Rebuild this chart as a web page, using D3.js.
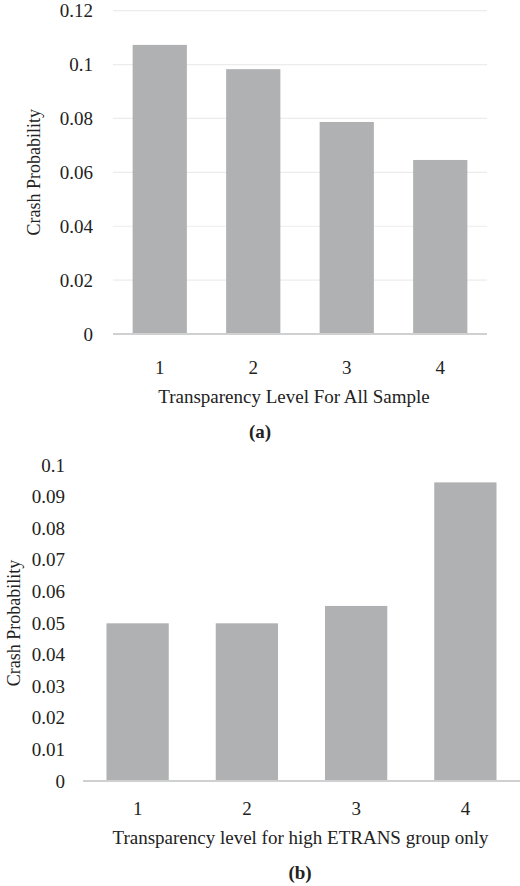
<!DOCTYPE html>
<html><head><meta charset="utf-8">
<script src="https://cdn.jsdelivr.net/npm/d3@7"></script>
<style>body{margin:0;background:#fff}text{font-family:"Liberation Serif",serif;fill:#222}</style>
</head><body><svg id="c" width="520" height="886"></svg>
<script>
const levels = ["1","2","3","4"];
const allSample = [0.1073, 0.0983, 0.0787, 0.0646];
const highEtrans = [0.0499, 0.0499, 0.0554, 0.0945];
const ticksA = [0,0.02,0.04,0.06,0.08,0.1,0.12];
const ticksB = [0,0.01,0.02,0.03,0.04,0.05,0.06,0.07,0.08,0.09,0.1];

const svg = d3.select("#c");
function panel(o){
  const g = svg.append("g");
  const x = d3.scaleBand().domain(levels).range([o.x0,o.x1]).paddingInner(o.pad).paddingOuter(o.pad/2);
  const y = d3.scaleLinear().domain([0,o.max]).range([o.y0,o.y1]);
  if(o.grid) g.selectAll(".gl").data(o.ticks.slice(1)).join("line")
    .attr("x1",o.x0).attr("x2",o.x1).attr("y1",d=>y(d)).attr("y2",d=>y(d))
    .attr("stroke","#ececec").attr("stroke-width",1.2);
  g.selectAll(".b").data(o.vals).join("rect")
    .attr("x",(d,i)=>x(levels[i])).attr("width",x.bandwidth())
    .attr("y",d=>y(d)).attr("height",d=>y(0)-y(d)).attr("fill","#b0b1b3");
  g.append("line").attr("x1",o.x0).attr("x2",o.x1).attr("y1",y(0)).attr("y2",y(0))
    .attr("stroke","#d0d0d0").attr("stroke-width",2);
  const ya = d3.axisLeft(y).tickValues(o.ticks).tickFormat(d=>d3.format("")(+d.toFixed(2))).tickSize(0).tickPadding(0);
  const ax = g.append("g").attr("transform",`translate(${o.tickRight},0)`).call(ya);
  ax.select(".domain").remove();
  ax.selectAll("text").attr("font-size",19).attr("font-family","Liberation Serif").attr("fill","#222");
  const xa = d3.axisBottom(x).tickSize(0).tickPadding(0);
  const axx = g.append("g").attr("transform",`translate(0,${o.xlabY})`).call(xa);
  axx.select(".domain").remove();
  axx.selectAll("text").attr("font-size",19).attr("font-family","Liberation Serif").attr("fill","#222").attr("dy","0");
  g.append("text").attr("x",(o.x0+o.x1)/2+o.titleDx).attr("y",o.titleY).attr("text-anchor","middle").attr("font-size",19).text(o.title);
  g.append("text").attr("transform",`translate(${o.ytX},${(o.y0+o.y1)/2}) rotate(-90)`).attr("text-anchor","middle").attr("font-size",18).text("Crash Probability");
  g.append("text").attr("x",o.capX).attr("y",o.capY).attr("text-anchor","middle").attr("font-size",19).attr("font-weight","bold").text(o.cap);
}
panel({x0:113,x1:487,y0:334,y1:10.7,max:0.12,pad:0.42,vals:allSample,ticks:ticksA,grid:true,tickRight:93,xlabY:374,titleY:403,titleDx:-6,title:"Transparency Level For All Sample",ytX:40,capX:260,capY:438,cap:"(a)"});
panel({x0:83,x1:520,y0:781,y1:465,max:0.1,pad:0.43,vals:highEtrans,ticks:ticksB,grid:false,tickRight:65,xlabY:815,titleY:844,titleDx:-1,title:"Transparency level for high ETRANS group only",ytX:20,capX:300,capY:879,cap:"(b)"});
</script></body></html>
